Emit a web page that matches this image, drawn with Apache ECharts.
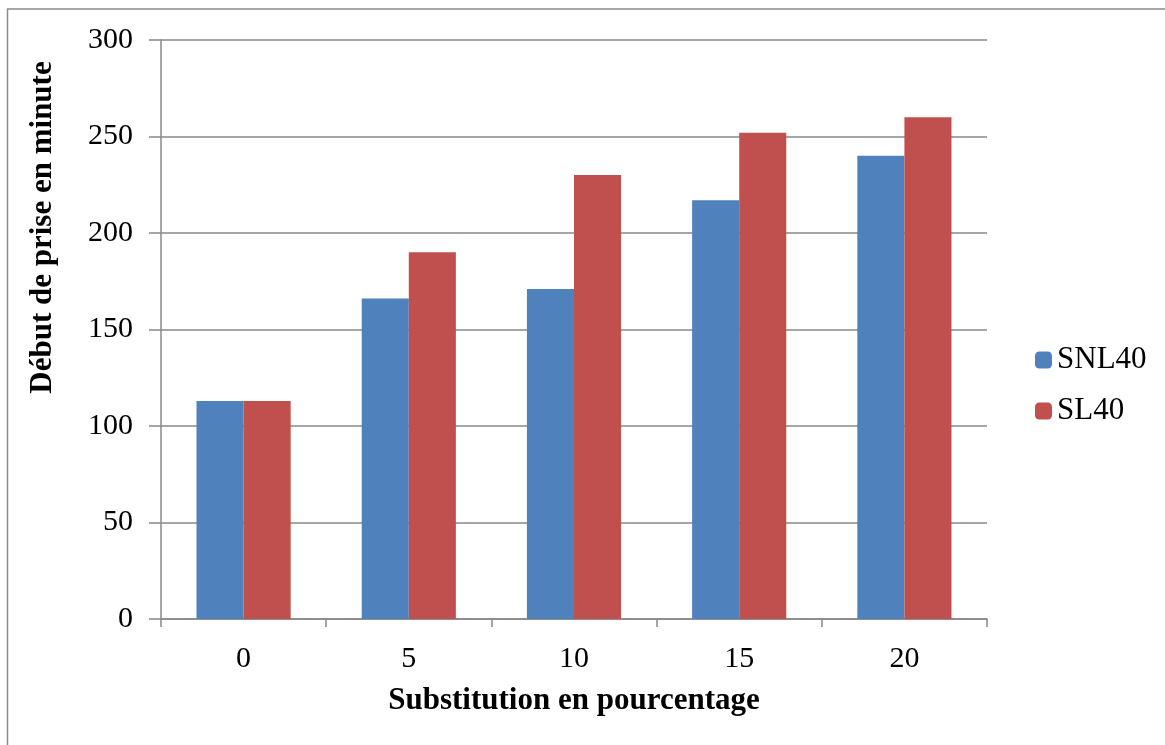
<!DOCTYPE html>
<html><head><meta charset="utf-8">
<script src="https://cdn.jsdelivr.net/npm/echarts@6/dist/echarts.min.js"></script>
<style>html,body{margin:0;padding:0;background:#fff}#c{width:1165px;height:745px}</style>
</head><body><div id="c"></div>
<script>
const categories = ['0', '5', '10', '15', '20'];
const snl40 = [113, 166, 171, 217, 240];
const sl40 = [113, 190, 230, 252, 260];
const yTicks = [0, 50, 100, 150, 200, 250, 300];

const chart = echarts.init(document.getElementById('c'));
const font = '"Liberation Serif", "Times New Roman", serif';
chart.setOption({
  animation: false,
  backgroundColor: '#fff',
  graphic: [
    {type: 'line', shape: {x1: 7, y1: 9, x2: 1165, y2: 9}, style: {stroke: '#8a8a8a', lineWidth: 1.5}},
    {type: 'line', shape: {x1: 7.5, y1: 9, x2: 7.5, y2: 745}, style: {stroke: '#8a8a8a', lineWidth: 1.5}}
  ],
  grid: {left: 161, right: 178, top: 40, bottom: 126},
  legend: {
    orient: 'vertical', left: 1030, top: 339, itemWidth: 17, itemHeight: 17, itemGap: 19,
    textStyle: {fontFamily: font, fontSize: 31, lineHeight: 32, color: '#000'},
    data: ['SNL40', 'SL40']
  },
  xAxis: {
    type: 'category', data: categories,
    name: 'Substitution en pourcentage', nameLocation: 'middle', nameGap: 66,
    nameTextStyle: {fontFamily: font, fontSize: 31, fontWeight: 'bold', color: '#000'},
    axisLine: {lineStyle: {color: '#888', width: 1.5}},
    axisTick: {show: true, length: 8, lineStyle: {color: '#888', width: 1.5}},
    axisLabel: {fontFamily: font, fontSize: 30, color: '#000', margin: 25}
  },
  yAxis: {
    type: 'value', min: 0, max: 300, interval: 50,
    name: 'Début de prise en minute', nameLocation: 'middle', nameGap: 103,
    nameTextStyle: {fontFamily: font, fontSize: 31, fontWeight: 'bold', color: '#000',
      padding: [0, 0, 0, 204]},
    axisLine: {show: true, lineStyle: {color: '#888', width: 1.5}},
    axisTick: {show: true, length: 12, lineStyle: {color: '#888', width: 1.5}},
    splitLine: {lineStyle: {color: '#888', width: 1.5}},
    axisLabel: {fontFamily: font, fontSize: 30, color: '#000', margin: 28,
      formatter: v => yTicks.includes(v) ? String(v) : ''}
  },
  series: [
    {name: 'SNL40', type: 'bar', data: snl40, barGap: '0%', barCategoryGap: '43%',
     itemStyle: {color: '#4f81bd'}},
    {name: 'SL40', type: 'bar', data: sl40, barGap: '0%', barCategoryGap: '43%',
     itemStyle: {color: '#c0504d'}}
  ]
});
</script></body></html>
